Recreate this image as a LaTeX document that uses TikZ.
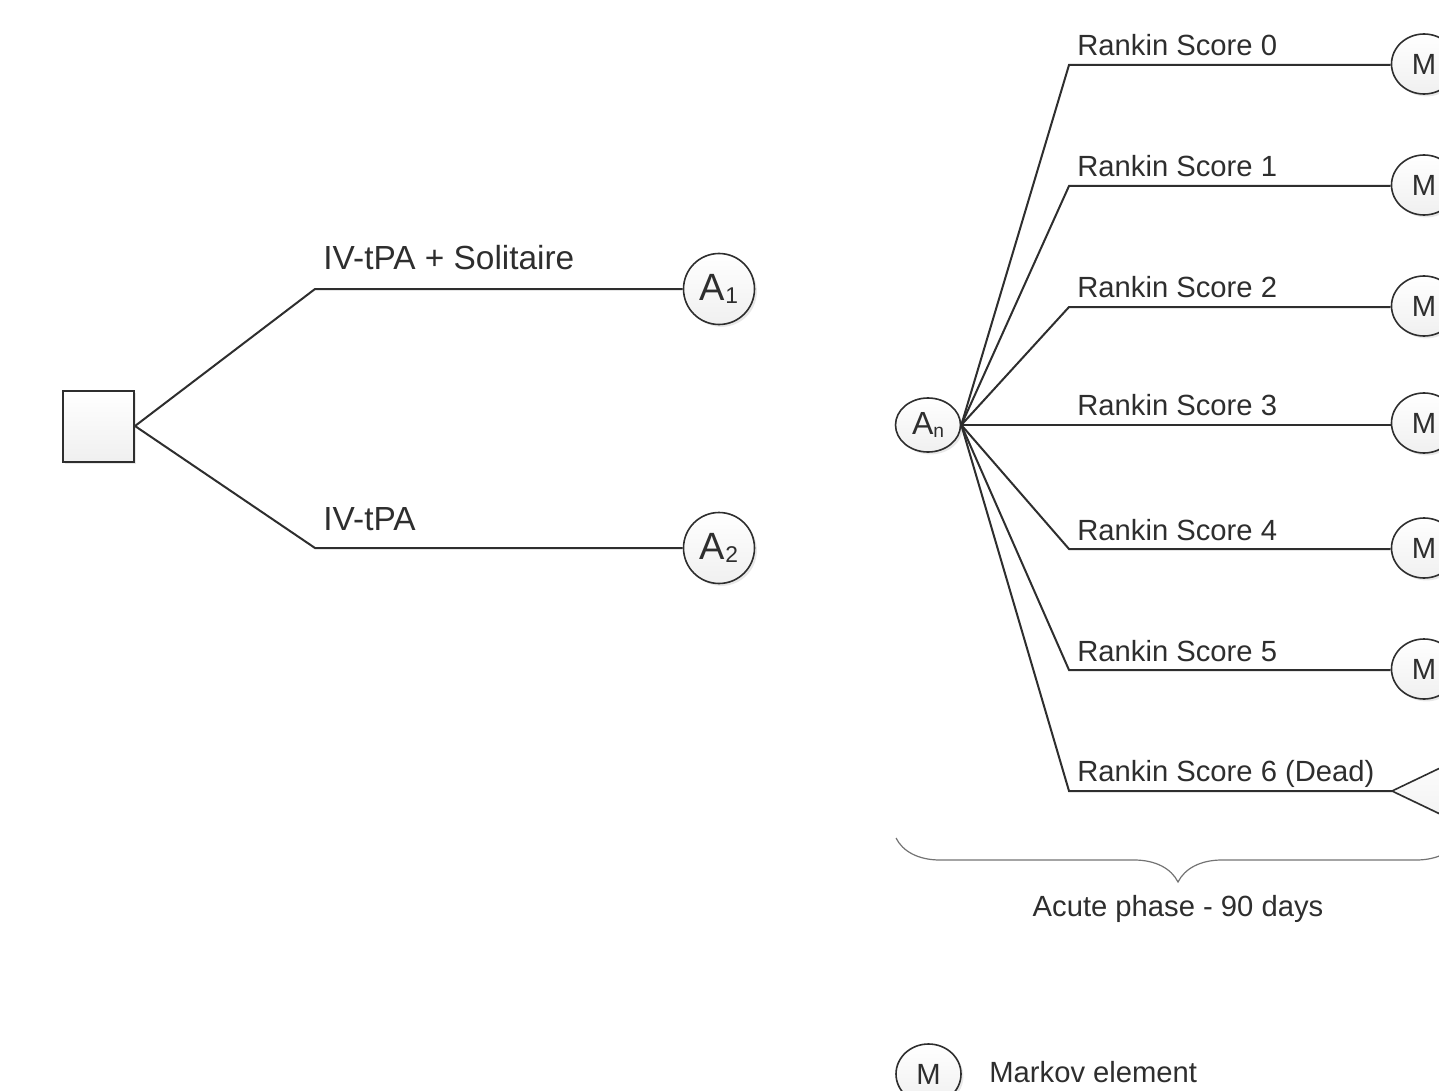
\documentclass[tikz,border=0pt]{standalone}
\usepackage{fontspec}
\setmainfont{Liberation Sans}
\usetikzlibrary{calc,shadows,shapes.geometric,decorations.pathreplacing}
\definecolor{ink}{HTML}{2E2E2E}
\newcommand{\sbs}[1]{\raisebox{-0.1em}{\scalebox{0.6}{#1}}}
\tikzset{
	nodefill/.style={top color=white, bottom color=black!6, drop shadow={opacity=0.18, shadow xshift=1.2pt, shadow yshift=-1.2pt}},
	decision/.style={rectangle, draw=ink, line width=1pt, nodefill, minimum size=35.5pt, inner sep=0pt},
	chance/.style={circle, draw=ink, line width=0.8pt, nodefill, minimum size=35.5pt, inner sep=0pt, text=ink, font=\fontsize{19}{20}\selectfont},
	chancen/.style={ellipse, draw=ink, line width=0.8pt, nodefill, minimum width=32.5pt, minimum height=27pt, inner sep=0pt, text=ink, font=\fontsize{16}{18}\selectfont},
	markov/.style={ellipse, draw=ink, line width=0.8pt, nodefill, minimum width=32.5pt, minimum height=30pt, inner sep=0pt, text=ink, font=\fontsize{14.6}{16}\selectfont},
	terminal/.style={draw=ink, line width=0.8pt, nodefill},
	branch/.style={draw=ink, line width=1pt},
	biglabel/.style={anchor=base west, inner sep=0pt, text=ink, font=\fontsize{16.7}{20}\selectfont},
	label/.style={anchor=base west, inner sep=0pt, text=ink, font=\fontsize{14.6}{17}\selectfont},
	phasebrace/.style={draw=black!55, line width=0.6pt, decorate, decoration={brace, amplitude=22pt, mirror}}
}

\begin{document}
\begin{tikzpicture}[x=0.5pt, y=-0.5pt]
			%%%%% START %%%%%
			\clip (0, 0) rectangle (1439, 1091);
			
			% strategy choice
			\node[decision] (dec) at (98.5, 426) {};
			\coordinate (kA) at (315, 289);
			\coordinate (kB) at (315, 548);
			\node[chance] (a1) at (719, 289) {A\sbs{1}};
			\node[chance] (a2) at (719, 548) {A\sbs{2}};
			\draw[branch] (dec.east) -- (kA) -- (a1);
			\draw[branch] (dec.east) -- (kB) -- (a2);
			\node[biglabel] (lA) at (323, 270) {IV-tPA + Solitaire};
			\node[biglabel] (lB) at (323, 530) {IV-tPA};
			
			% acute phase tree
			\node[chancen] (an) at (928, 425) {A\sbs{n}};
			
			\coordinate (k0) at (1069, 65);
			\coordinate (k1) at (1069, 186);
			\coordinate (k2) at (1069, 307);
			\coordinate (k3) at (1069, 425);
			\coordinate (k4) at (1069, 549);
			\coordinate (k5) at (1069, 670);
			\coordinate (k6) at (1069, 791);
			
			\node[markov] (m0) at (1424, 64) {M};
			\node[markov] (m1) at (1424, 185) {M};
			\node[markov] (m2) at (1424, 306) {M};
			\node[markov] (m3) at (1424, 423) {M};
			\node[markov] (m4) at (1424, 548) {M};
			\node[markov] (m5) at (1424, 669) {M};
			\coordinate (dead) at (1392, 791);
			\draw[terminal] (dead) -- ++(92, -44) -- ++(0, 88) -- cycle;
			
			\draw[branch] (an.east) -- (k0) -- (m0.west |- k0);
			\draw[branch] (an.east) -- (k1) -- (m1.west |- k1);
			\draw[branch] (an.east) -- (k2) -- (m2.west |- k2);
			\draw[branch] (an.east) -- (k3) -- (m3.west |- k3);
			\draw[branch] (an.east) -- (k4) -- (m4.west |- k4);
			\draw[branch] (an.east) -- (k5) -- (m5.west |- k5);
			\draw[branch] (an.east) -- (k6) -- (dead);
			
			\node[label] (r0) at (1077, 56) {Rankin Score 0};
			\node[label] (r1) at (1077, 177) {Rankin Score 1};
			\node[label] (r2) at (1077, 297) {Rankin Score 2};
			\node[label] (r3) at (1077, 415) {Rankin Score 3};
			\node[label] (r4) at (1077, 540) {Rankin Score 4};
			\node[label] (r5) at (1077, 661) {Rankin Score 5};
			\node[label] (r6) at (1077, 781) {Rankin Score 6 (Dead)};
			
			% phase brace
			\draw[phasebrace] (896, 838) -- (1460, 838);
			\node[label, anchor=base] (phase) at (1178, 916) {Acute phase - 90 days};
			
			% legend
			\node[markov] (legm) at (928.5, 1074) {M};
			\node[label] (legt) at (989, 1082) {Markov element};
			
			%%%%% END %%%%%
\end{tikzpicture}
\end{document}
